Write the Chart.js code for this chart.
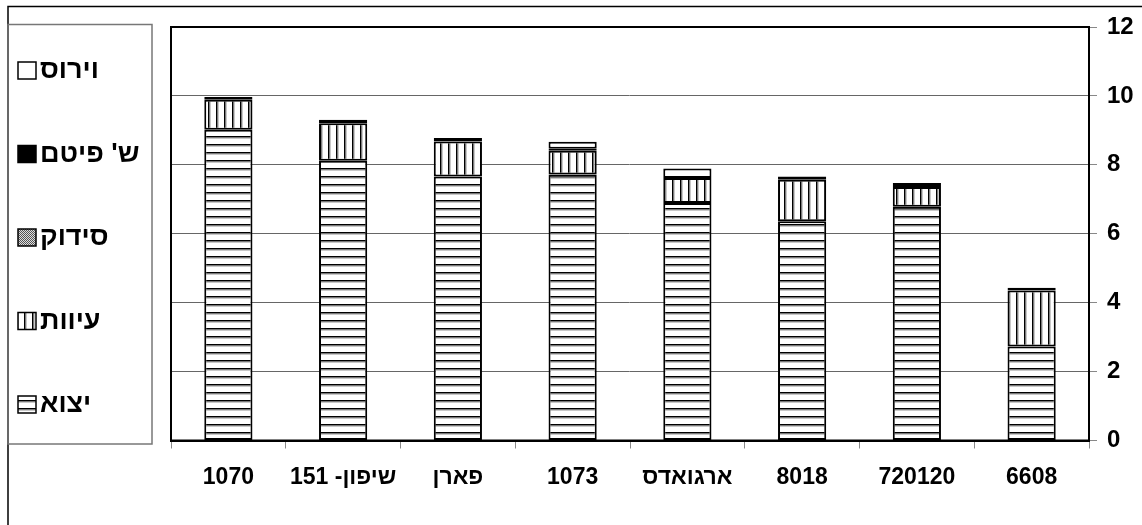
<!DOCTYPE html>
<html>
<head>
<meta charset="utf-8">
<script src="https://cdn.jsdelivr.net/npm/chart.js@4/dist/chart.umd.min.js"></script>
<style>
html,body{margin:0;padding:0;background:#fff;}
#wrap{width:1142px;height:525px;position:relative;}
canvas{direction:rtl;}
</style>
</head>
<body>
<div id="wrap"><canvas id="c" dir="rtl"></canvas></div>
<script>
const categories = ["1070", "שיפון- 151", "פארן", "1073", "ארגואדס", "8018", "720120", "6608"];
const export_ = [9.02, 8.12, 7.66, 7.72, 6.89, 6.36, 6.78, 2.73];   // יצוא
const distortion = [0.87, 1.09, 1.02, 0.69, 0.73, 1.21, 0.58, 1.62]; // עיוות
const cracking = [0, 0, 0, 0, 0, 0, 0, 0];                          // סידוק
const blackSpots = [0.08, 0.10, 0.10, 0.06, 0, 0.09, 0.11, 0.08];   // ש' פיטם
const virus = [0, 0, 0, 0.20, 0.27, 0, 0, 0];                       // וירוס
const seriesNames = ["יצוא", "עיוות", "סידוק", "ש' פיטם", "וירוס"];
const yTicks = [0, 2, 4, 6, 8, 10, 12];

function makePattern(w, h, draw) {
  const c = document.createElement('canvas');
  c.width = w; c.height = h;
  const g = c.getContext('2d');
  g.fillStyle = '#fff'; g.fillRect(0, 0, w, h);
  draw(g);
  return document.getElementById('c').getContext('2d').createPattern(c, 'repeat');
}
const hStripe = makePattern(8, 8, g => {
  g.fillStyle = '#000'; g.fillRect(0, 0, 8, 1);
  g.fillStyle = '#7a7a7a'; g.fillRect(0, 1, 8, 1);
  g.fillStyle = '#c8c8c8'; g.fillRect(0, 2, 8, 1);
});
const vStripe = makePattern(8, 8, g => {
  g.fillStyle = '#000'; g.fillRect(0, 0, 1, 8);
  g.fillStyle = '#7a7a7a'; g.fillRect(1, 0, 1, 8);
  g.fillStyle = '#c8c8c8'; g.fillRect(2, 0, 1, 8);
});
const dots = makePattern(2, 2, g => {
  g.fillStyle = '#555'; g.fillRect(0, 0, 1, 1); g.fillRect(1, 1, 1, 1);
  g.fillStyle = '#ddd'; g.fillRect(1, 0, 1, 1); g.fillRect(0, 1, 1, 1);
});

const fills = [hStripe, vStripe, dots, '#000', '#fff'];
const values = [export_, distortion, cracking, blackSpots, virus];

const FONT = "'Liberation Sans', Arial, sans-serif";

const framePlugin = {
  id: 'frame',
  beforeDraw(chart) {
    const ctx = chart.ctx;
    ctx.save();
    ctx.fillStyle = '#fff';
    ctx.fillRect(0, 0, chart.width, chart.height);
    ctx.strokeStyle = '#000';
    ctx.lineWidth = 1.5;
    ctx.beginPath();
    ctx.moveTo(8, 525); ctx.lineTo(8, 6.5); ctx.lineTo(1142, 6.5);
    ctx.stroke();
    ctx.strokeStyle = '#777';
    ctx.lineWidth = 1.5;
    ctx.strokeRect(8, 24.5, 144, 419.5);
    ctx.restore();
  },
  afterDatasetsDraw(chart) {
    const ctx = chart.ctx, a = chart.chartArea;
    ctx.save();
    ctx.strokeStyle = '#000';
    ctx.lineWidth = 2;
    ctx.strokeRect(a.left, a.top, a.right - a.left, a.bottom - a.top);
    ctx.restore();
  },
  afterDraw(chart) {
    const ctx = chart.ctx;
    ctx.save();
    const ds = chart.data.datasets;
    const order = [4, 3, 2, 1, 0];
    order.forEach((di, i) => {
      const cy = 70 + i * 83.5;
      ctx.fillStyle = ds[di].backgroundColor;
      ctx.fillRect(18, cy - 8, 18, 17);
      ctx.strokeStyle = '#000';
      ctx.lineWidth = 1.5;
      ctx.strokeRect(18, cy - 8, 18, 17);
      ctx.fillStyle = '#000';
      ctx.font = "bold 27px " + FONT;
      ctx.textAlign = 'left';
      ctx.textBaseline = 'middle';
      ctx.fillText(ds[di].label, 40, cy + 1);
    });
    ctx.restore();
  }
};

new Chart(document.getElementById('c'), {
  type: 'bar',
  data: {
    labels: categories,
    datasets: seriesNames.map((name, i) => ({
      label: name,
      data: values[i],
      backgroundColor: fills[i],
      borderColor: '#000',
      borderWidth: 2,
      borderSkipped: false,
      categoryPercentage: 1,
      barPercentage: 0.42
    }))
  },
  options: {
    responsive: true,
    maintainAspectRatio: false,
    animation: false,
    devicePixelRatio: 1,
    layout: { padding: { left: 171, top: 27, right: 0, bottom: 0 } },
    plugins: { legend: { display: false }, tooltip: { enabled: false } },
    scales: {
      x: {
        stacked: true,
        grid: { display: true, drawOnChartArea: false, drawTicks: true, tickLength: 8, color: '#888', offset: true },
        border: { display: true, color: '#000', width: 2 },
        ticks: { color: '#000', font: { family: FONT, size: 23, weight: 'bold' }, padding: 15, maxRotation: 0, autoSkip: false },
        afterFit(scale) { scale.height = 84.5; }
      },
      y: {
        stacked: true,
        position: 'right',
        min: 0, max: 12,
        afterBuildTicks(scale) { scale.ticks = yTicks.map(v => ({ value: v })); },
        grid: { color: '#666', lineWidth: 1, tickLength: 8, tickColor: '#888' },
        border: { display: true, color: '#000', width: 2 },
        ticks: { color: '#000', font: { family: FONT, size: 24, weight: 'bold' }, padding: 10 },
        afterFit(scale) { scale.width = 53; }
      }
    }
  },
  plugins: [framePlugin]
});
</script>
</body>
</html>
